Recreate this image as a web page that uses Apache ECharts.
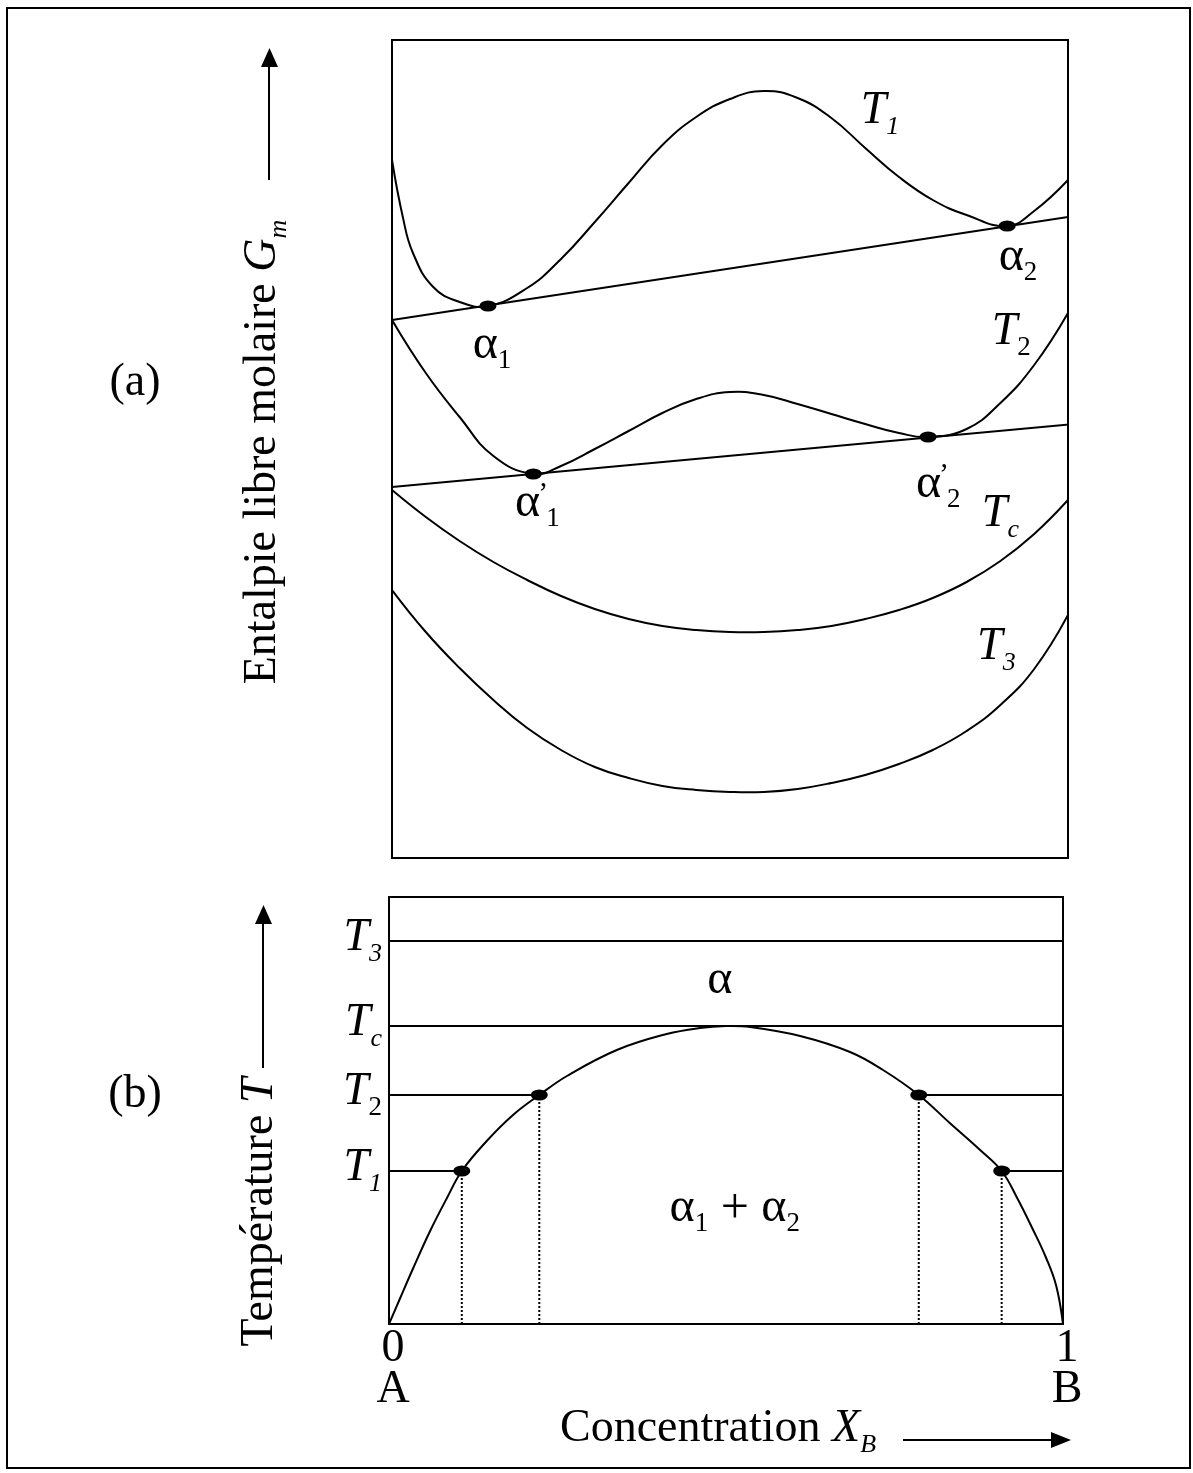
<!DOCTYPE html>
<html><head><meta charset="utf-8">
<script src="https://cdn.jsdelivr.net/npm/echarts@6/dist/echarts.min.js"></script>
<style>html,body{margin:0;padding:0;background:#fff}#c{width:1193px;height:1473px}</style>
</head><body><div id="c"></div>
<script>
// ---------- (a) molar free enthalpy curves, x = X_B, G in arbitrary units ----------
const xT1 = [0, 0.016, 0.031, 0.061, 0.10, 0.142, 0.20, 0.25, 0.30, 0.35, 0.40, 0.45, 0.50, 0.55, 0.60, 0.65, 0.70, 0.75, 0.80, 0.85, 0.91, 0.95, 1.0];
const gT1 = [698, 641, 605, 571, 556, 552, 570, 599, 636, 675, 713, 741, 759, 767, 760, 740, 710, 681, 658, 643, 632, 647, 678];
const xT2 = [0, 0.05, 0.10, 0.15, 0.209, 0.25, 0.30, 0.35, 0.40, 0.45, 0.50, 0.55, 0.60, 0.65, 0.70, 0.75, 0.793, 0.85, 0.90, 0.95, 1.0];
const gT2 = [538, 485, 441, 402, 384, 392, 409, 427, 445, 459, 466, 463, 454, 444, 434, 425, 421, 429, 455, 493, 545];
const xTc = [0, 0.05, 0.10, 0.15, 0.20, 0.25, 0.30, 0.35, 0.40, 0.45, 0.50, 0.55, 0.60, 0.65, 0.70, 0.75, 0.80, 0.85, 0.90, 0.95, 1.0];
const gTc = [368, 341, 317, 296, 278, 262, 249, 239, 232, 228, 226, 226, 228, 232, 239, 248, 260, 276, 297, 324, 358];
const xT3 = [0, 0.05, 0.10, 0.15, 0.20, 0.25, 0.30, 0.35, 0.40, 0.45, 0.50, 0.55, 0.60, 0.65, 0.70, 0.75, 0.80, 0.85, 0.90, 0.95, 1.0];
const gT3 = [268, 226, 190, 158, 130, 108, 91, 80, 72, 68, 66, 66, 69, 75, 83, 94, 108, 127, 153, 189, 243];
// common tangents (x, G) and tangency points
const tieLineT1 = [[0, 538], [1, 641]];
const tieLineT2 = [[0, 371], [1.008, 434]];
const tangentPtsT1 = [[0.142, 552], [0.910, 632]];
const tangentPtsT2 = [[0.209, 384], [0.793, 421]];
// curve labels
const curveLabelNames = ['T1', 'a2', 'a1', 'T2', 'a1p', 'a2p', 'Tc', 'T3'];
const curveLabelX = [0.722, 0.926, 0.148, 0.916, 0.215, 0.808, 0.900, 0.894];
const curveLabelG = [744, 598, 510, 523, 352, 371, 341, 208];

// ---------- (b) phase diagram ----------
const xDome = [0, 0.016, 0.036, 0.061, 0.086, 0.108, 0.145, 0.184, 0.223, 0.264, 0.338, 0.412, 0.461, 0.500, 0.536, 0.610, 0.684, 0.733, 0.786, 0.832, 0.877, 0.909, 0.932, 0.955, 0.975, 0.990, 1.0];
const tDome = [0, 25, 56, 93, 126, 153, 183, 209, 229, 248, 274, 290, 296, 298, 297, 288, 272, 254, 229, 201, 174, 153, 126, 95, 66, 38, 0];
const tempNames = ['T1', 'T2', 'Tc', 'T3'];
const tempValues = [153, 229, 298, 383];
const limitsT1 = [0.108, 0.909];
const limitsT2 = [0.223, 0.786];
const xTicks = [0, 1];
const xTickNames = ['A', 'B'];
const phaseLabelNames = ['alpha', 'alpha12'];
const phaseLabelX = [0.491, 0.513];
const phaseLabelT = [341, 113];

// ---------- build ----------
const SERIF = 'Liberation Serif';
const zip = (xs, ys) => xs.map((x, i) => [x, ys[i]]);
const rich = {
  T: {fontFamily: SERIF, fontStyle: 'italic', fontSize: 46, lineHeight: 53, verticalAlign: 'top', color: '#000'},
  ti: {fontFamily: SERIF, fontStyle: 'italic', fontSize: 26, lineHeight: 26, verticalAlign: 'bottom', color: '#000'},
  tu: {fontFamily: SERIF, fontSize: 27, lineHeight: 26, verticalAlign: 'bottom', color: '#000'},
  a: {fontFamily: SERIF, fontSize: 48, lineHeight: 53, verticalAlign: 'top', color: '#000'},
  as: {fontFamily: SERIF, fontSize: 27, lineHeight: 26, verticalAlign: 'bottom', color: '#000'},
  pr: {fontFamily: SERIF, fontSize: 30, lineHeight: 8, verticalAlign: 'top', width: 6, color: '#000'},
  n: {fontFamily: SERIF, fontSize: 46, lineHeight: 53, verticalAlign: 'top', color: '#000'},
  pl: {fontFamily: SERIF, fontSize: 50, lineHeight: 53, verticalAlign: 'top', color: '#000'}
};
const fmt = {
  T1: '{T|T}{ti|1}', T2: '{T|T}{tu|2}', Tc: '{T|T}{ti|c}', T3: '{T|T}{ti|3}',
  a1: '{a|α}{as|1}', a2: '{a|α}{as|2}', a1p: '{a|α}{pr|’}{as|1}', a2p: '{a|α}{pr|’}{as|2}',
  alpha: '{a|α}', alpha12: '{a|α}{as|1}{pl| + }{a|α}{as|2}'
};
const lw = 2;
// smooth curve drawn through the data points, mapped with the grid's own axes
function curve(name, data, g, smooth) {
  return {type: 'custom', name, data, xAxisIndex: g, yAxisIndex: g, silent: true, clip: true,
    encode: {x: 0, y: 1},
    renderItem: (params, api) => {
      if (params.dataIndex !== 0) return null;
      const pts = data.map(p => api.coord(p));
      return {type: 'polyline', shape: {points: pts, smooth: smooth || 0.45},
        style: {stroke: '#000', lineWidth: lw, fill: null, lineJoin: 'round'}};
    }};
}
function seg(name, data, g, extra) {
  return Object.assign({type: 'line', name, data, xAxisIndex: g, yAxisIndex: g, showSymbol: false, symbol: 'none',
    lineStyle: {color: '#000', width: lw}, silent: true}, extra || {});
}
function dots(name, data, g) {
  return {type: 'scatter', name, data, xAxisIndex: g, yAxisIndex: g, symbol: 'circle', symbolSize: [17, 11], itemStyle: {color: '#000', opacity: 1}, silent: true, z: 5};
}
function labels(name, names, xs, ys, g) {
  return {type: 'scatter', name, xAxisIndex: g, yAxisIndex: g, symbolSize: 1, itemStyle: {color: 'rgba(0,0,0,0)'}, silent: true, z: 6,
    data: names.map((n, i) => ({name: n, value: [xs[i], ys[i]]})),
    label: {show: true, position: 'inside', color: '#000', opacity: 1, textBorderWidth: 0, formatter: p => fmt[p.name], rich}};
}

const series = [
  curve('T1', zip(xT1, gT1), 0),
  seg('tie T1', tieLineT1, 0),
  curve('T2', zip(xT2, gT2), 0),
  seg('tie T2', tieLineT2, 0, {clip: false}),
  curve('Tc', zip(xTc, gTc), 0),
  curve('T3', zip(xT3, gT3), 0),
  dots('tangent T1', tangentPtsT1, 0),
  dots('tangent T2', tangentPtsT2, 0),
  labels('labels a', curveLabelNames, curveLabelX, curveLabelG, 0),
  // (b)
  curve('miscibility gap', zip(xDome, tDome), 1, 0.4),
  seg('T3 level', [[0, tempValues[3]], [1, tempValues[3]]], 1),
  seg('Tc level', [[0, tempValues[2]], [1, tempValues[2]]], 1),
  seg('T2 left', [[0, tempValues[1]], [limitsT2[0], tempValues[1]]], 1),
  seg('T2 right', [[limitsT2[1], tempValues[1]], [1, tempValues[1]]], 1),
  seg('T1 left', [[0, tempValues[0]], [limitsT1[0], tempValues[0]]], 1),
  seg('T1 right', [[limitsT1[1], tempValues[0]], [1, tempValues[0]]], 1),
  ...limitsT1.map((x, i) => seg('drop T1 ' + i, [[x, 0], [x, tempValues[0]]], 1, {lineStyle: {color: '#000', width: 2, type: [2, 2]}})),
  ...limitsT2.map((x, i) => seg('drop T2 ' + i, [[x, 0], [x, tempValues[1]]], 1, {lineStyle: {color: '#000', width: 2, type: [2, 2]}})),
  dots('ends T1', limitsT1.map(x => [x, tempValues[0]]), 1),
  dots('ends T2', limitsT2.map(x => [x, tempValues[1]]), 1),
  labels('labels b', phaseLabelNames, phaseLabelX, phaseLabelT, 1)
];

const arrowLine = (x1, y1, x2, y2) => ({type: 'line', shape: {x1, y1, x2, y2}, style: {stroke: '#000', lineWidth: 2}});
const head = (pts) => ({type: 'polygon', shape: {points: pts}, style: {fill: '#000'}});

const option = {
  animation: false,
  backgroundColor: '#fff',
  grid: [
    {left: 392, top: 40, width: 676, height: 818, show: true, borderColor: '#000', borderWidth: 2, backgroundColor: 'transparent'},
    {left: 389, top: 897, width: 674, height: 427, show: true, borderColor: '#000', borderWidth: 2, backgroundColor: 'transparent'}
  ],
  xAxis: [
    {type: 'value', gridIndex: 0, min: 0, max: 1, show: false},
    {type: 'value', gridIndex: 1, min: 0, max: 1, splitLine: {show: false}, axisLine: {show: false}, axisTick: {show: false},
      axisLabel: {customValues: xTicks, margin: 4, padding: [0, 0, 0, 8], formatter: v => (v === 0 ? '0' : '1') + '\n' + xTickNames[v === 0 ? 0 : 1],
        fontFamily: SERIF, fontSize: 46, lineHeight: 41, color: '#000'}}
  ],
  yAxis: [
    {type: 'value', gridIndex: 0, min: 0, max: 818, show: false},
    {type: 'value', gridIndex: 1, min: 0, max: 427, splitLine: {show: false}, axisLine: {show: false}, axisTick: {show: false},
      axisLabel: {customValues: tempValues, margin: 7, color: '#000', formatter: v => fmt[tempNames[tempValues.indexOf(v)]], rich}}
  ],
  graphic: [
    {type: 'rect', shape: {x: 7, y: 8, width: 1183, height: 1460}, style: {fill: 'none', stroke: '#000', lineWidth: 2}, z: -1},
    {type: 'text', x: 135, y: 383, style: {text: '(a)', font: '46px "Liberation Serif"', fill: '#000', align: 'center', verticalAlign: 'middle'}},
    {type: 'text', x: 135, y: 1095, style: {text: '(b)', font: '46px "Liberation Serif"', fill: '#000', align: 'center', verticalAlign: 'middle'}},
    {type: 'text', x: 266, y: 452, rotation: Math.PI / 2,
      style: {text: '{n|Entalpie libre molaire }{T|G}{ti|m}', rich, align: 'center', verticalAlign: 'middle'}},
    arrowLine(269, 180, 269, 62), head([[261, 67], [278, 67], [269.5, 48]]),
    {type: 'text', x: 263, y: 1212, rotation: Math.PI / 2,
      style: {text: '{n|Température }{T|T}', rich, align: 'center', verticalAlign: 'middle'}},
    arrowLine(263, 1068, 263, 920), head([[255, 924], [272, 924], [263.5, 905]]),
    {type: 'text', x: 560, y: 1432, style: {text: '{n|Concentration }{T|X}{ti|B}', rich, align: 'left', verticalAlign: 'middle'}},
    arrowLine(903, 1440, 1056, 1440), head([[1051, 1432], [1051, 1448], [1071, 1440]])
  ],
  series
};
const chart = echarts.init(document.getElementById('c'), null, {renderer: 'canvas'});
chart.setOption(option);
</script></body></html>
